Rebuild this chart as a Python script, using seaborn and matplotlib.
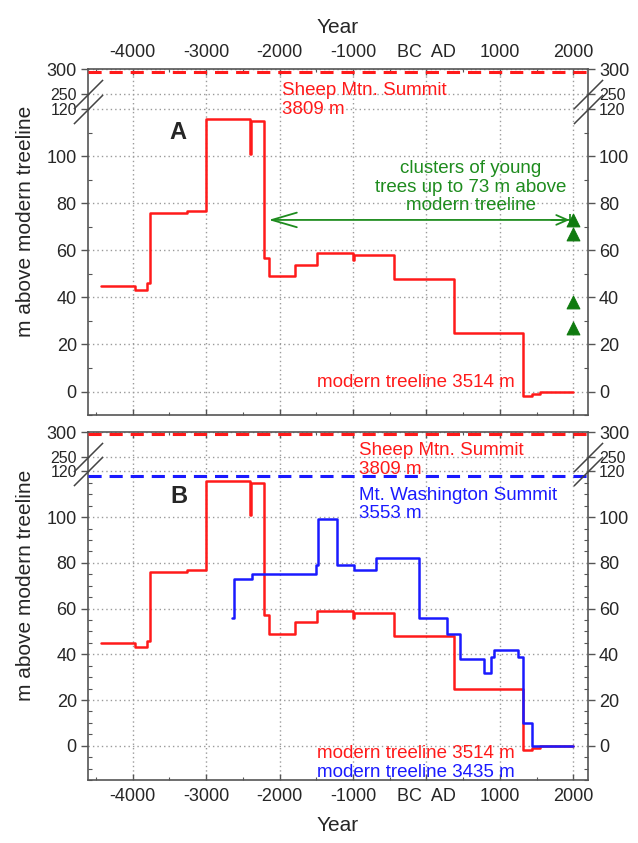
import numpy as np
import pandas as pd
import matplotlib
matplotlib.use("Agg")
import matplotlib.pyplot as plt
import seaborn as sns
from matplotlib.ticker import FixedLocator, MultipleLocator

# ---------------- data ----------------
sheep_years = [-4430, -3970, -3800, -3760, -3260, -3000, -2410, -2385, -2210, -2140,
               -1790, -1485, -1000, -985, -440, 380, 1315, 1440, 1550, 2000]
sheep_elev = [45, 43, 46, 76, 77, 116, 101, 115, 57, 49,
              54, 59, 56, 58, 48, 25, -2, -1, 0, 0]
wash_years = [-2650, -2620, -2380, -1500, -1480, -1220, -990, -690, -100, 280,
              455, 780, 875, 920, 1250, 1310, 1440, 2000]
wash_elev = [56, 73, 75, 79, 99, 79, 77, 82, 56, 49,
             38, 32, 39, 42, 39, 10, 0, 0]
young_years = [2000, 2000, 2000, 2000]
young_elev = [73, 67, 38, 27]
sheep_summit = 295   # 3809 m - 3514 m
wash_summit = 118    # 3553 m - 3435 m
young_max = 73
arrow_left_year = -2150
x_ticks = [-4000, -3000, -2000, -1000, 0, 1000, 2000]
x_labels = ["-4000", "-3000", "-2000", "-1000", "BC  AD", "1000", "2000"]
y_ticks = [0, 20, 40, 60, 80, 100, 120, 250, 300]

sheep_df = pd.DataFrame({"year": sheep_years, "elev": sheep_elev})
wash_df = pd.DataFrame({"year": wash_years, "elev": wash_elev})
young_df = pd.DataFrame({"year": young_years, "elev": young_elev})

# ---------------- style ----------------
sns.set_style("white")
plt.rcParams["font.family"] = ["Liberation Sans", "DejaVu Sans"]

RED = "#ff1a1a"
BLUE = "#1a1aff"
GREEN = "#1e8c1e"
SPINE = "#555555"
GRIDC = "#9a9a9a"

# broken y axis: 120-250 compressed to G units, 250-300 to T units
G, T = 6.5, 10.7


def fwd(y):
    y = np.asarray(y, dtype=float)
    return np.where(y <= 120, y,
                    np.where(y <= 250, 120 + (y - 120) * G / 130,
                             120 + G + (y - 250) * T / 50))


def inv(t):
    t = np.asarray(t, dtype=float)
    return np.where(t <= 120, t,
                    np.where(t <= 120 + G, 120 + (t - 120) * 130 / G,
                             250 + (t - 120 - G) * 50 / T))


fig = plt.figure(figsize=(6.38, 8.43), dpi=100)
axA = fig.add_axes([0.1379, 0.5077, 0.7837, 0.4104])
axB = fig.add_axes([0.1379, 0.0747, 0.7837, 0.4128])


def style_axis(ax, ymin, minor_step, top_labels):
    ax.set_yscale("function", functions=(fwd, inv))
    ax.set_xlim(-4610, 2200)
    ax.set_ylim(ymin, 300)
    ax.set_xticks(x_ticks)
    ax.set_xticklabels(x_labels)
    ax.xaxis.set_minor_locator(MultipleLocator(500))
    ax.set_yticks(y_ticks)
    ax.set_yticklabels([str(v) for v in y_ticks])
    ax.yaxis.set_minor_locator(FixedLocator(list(np.arange(ymin, 121, minor_step))))
    ax.grid(True, which="major", linestyle=(0, (1, 2.2)), color=GRIDC, lw=1.0)
    for s in ax.spines.values():
        s.set_color(SPINE)
        s.set_linewidth(1.2)
        s.set_visible(True)
    ax.tick_params(axis="y", which="major", direction="out", length=5, width=1,
                   color=SPINE, left=True, right=True, labelleft=True,
                   labelright=True, labelsize=13, pad=3)
    ax.tick_params(axis="y", which="minor", direction="in", length=3, width=0.8,
                   color=SPINE, left=True, right=True)
    ax.tick_params(axis="x", which="major", direction="in", length=4, width=1,
                   color=SPINE, top=True, bottom=True, labelsize=13,
                   labeltop=top_labels, labelbottom=not top_labels, pad=6)
    ax.tick_params(axis="x", which="minor", direction="in", length=2.5,
                   width=0.8, color=SPINE, top=True, bottom=True)
    # the two labels around the axis break sit very close together
    for lab in ax.get_yticklabels(which="major") + ax.yaxis.get_ticklabels(which="major"):
        pass
    for tick in ax.yaxis.get_major_ticks():
        if tick.get_loc() in (250, 120):
            tick.label1.set_fontsize(11.5)
            tick.label2.set_fontsize(11.5)
    ax.set_ylabel("m above modern treeline", fontsize=15)
    ax.yaxis.set_label_coords(-0.105, 0.56)
    ax.set_xlabel("Year", fontsize=15, labelpad=8)
    if top_labels:
        ax.xaxis.set_label_position("top")
    # break marks "//" on both spines
    for yv in (250, 120):
        ax.plot([0, 1], [yv, yv], transform=ax.get_yaxis_transform(),
                marker=[(-1, -1), (1, 1)], ms=21, mew=1.1, color="#444444",
                ls="none", clip_on=False, zorder=5)


style_axis(axA, -10, 10, True)
style_axis(axB, -15, 5, False)

dash = (0, (4.3, 2.6))

# ---------------- panel A ----------------
axA.axhline(sheep_summit, color=RED, lw=2.2, ls=dash, zorder=3)
sns.lineplot(data=sheep_df, x="year", y="elev", ax=axA, estimator=None,
             sort=False, drawstyle="steps-post", color=RED, lw=1.8, zorder=4)
sns.scatterplot(data=young_df, x="year", y="elev", ax=axA, marker="^",
                s=85, color="#0f7a0f", edgecolor="#0f7a0f", zorder=6)
axA.annotate("", xy=(arrow_left_year, young_max), xytext=(1950, young_max),
             arrowprops=dict(arrowstyle="->,head_length=1.2,head_width=0.35",
                             color=GREEN, lw=1.3, shrinkA=0, shrinkB=0,
                             mutation_scale=15), zorder=5)
axA.annotate("", xy=(1950, young_max), xytext=(1700, young_max),
             arrowprops=dict(arrowstyle="->,head_length=0.8,head_width=0.35",
                             color=GREEN, lw=1.3, shrinkA=0, shrinkB=0,
                             mutation_scale=10), zorder=5)
axA.plot([1955], [young_max], marker="|", ms=9, mew=1.3, color=GREEN, zorder=5)

axA.text(-1970, 275, "Sheep Mtn. Summit\n3809 m", color=RED, fontsize=13.5,
         ha="left", va="top", linespacing=1.15)
axA.text(-3390, 110, "A", fontsize=17, fontweight="bold", ha="center", va="center")
axA.text(600, 87, "clusters of young\ntrees up to 73 m above\nmodern treeline",
         color=GREEN, fontsize=13.5, ha="center", va="center", linespacing=1.15)
axA.text(1200, 4, "modern treeline 3514 m", color=RED, fontsize=13.5,
         ha="right", va="center")

# ---------------- panel B ----------------
axB.axhline(sheep_summit, color=RED, lw=2.2, ls=dash, zorder=3)
axB.axhline(wash_summit, color=BLUE, lw=2.2, ls=dash, zorder=3)
sns.lineplot(data=sheep_df, x="year", y="elev", ax=axB, estimator=None,
             sort=False, drawstyle="steps-post", color=RED, lw=1.8, zorder=4)
sns.lineplot(data=wash_df, x="year", y="elev", ax=axB, estimator=None,
             sort=False, drawstyle="steps-post", color=BLUE, lw=1.8, zorder=4)

axB.text(-920, 280, "Sheep Mtn. Summit\n3809 m", color=RED, fontsize=13.5,
         ha="left", va="top", linespacing=1.15)
axB.text(-920, 105.5, "Mt. Washington Summit\n3553 m", color=BLUE, fontsize=13.5,
         ha="left", va="center", linespacing=1.15)
axB.text(-3370, 109, "B", fontsize=17, fontweight="bold", ha="center", va="center")
axB.text(1200, -3.5, "modern treeline 3514 m", color=RED, fontsize=13.5,
         ha="right", va="center")
axB.text(1200, -11.5, "modern treeline 3435 m", color=BLUE, fontsize=13.5,
         ha="right", va="center")

fig.savefig("out.png", dpi=100)
